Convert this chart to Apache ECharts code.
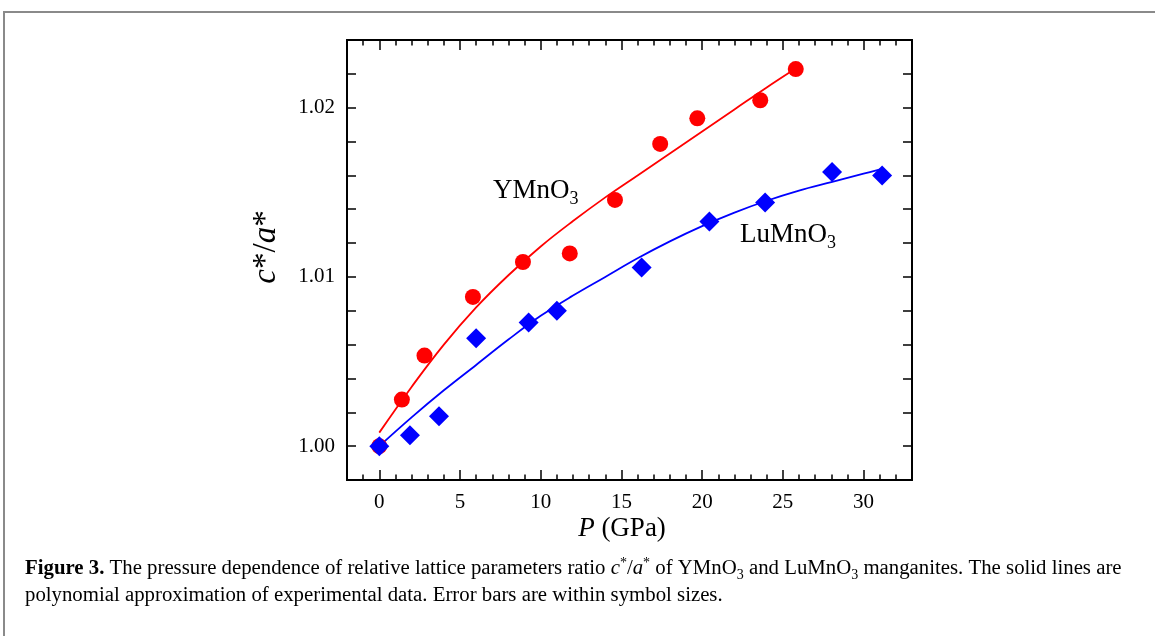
<!DOCTYPE html>
<html>
<head>
<meta charset="utf-8">
<script src="https://cdn.jsdelivr.net/npm/echarts@6/dist/echarts.min.js"></script>
<style>
  html, body { margin: 0; padding: 0; background: #fff; }
  #chart { width: 1155px; height: 636px; }
</style>
</head>
<body>
<div id="chart"></div>
<script>
// Measured c*/a* ratio versus pressure (GPa)
const pressureYMnO3 = [0, 1.4, 2.8, 5.8, 8.9, 11.8, 14.6, 17.4, 19.7, 23.6, 25.8];
const ratioYMnO3    = [1.0000, 1.00275, 1.00535, 1.00882, 1.01088, 1.01139, 1.01455, 1.01786, 1.01937, 1.02044, 1.02228];
const pressureLuMnO3 = [0, 1.9, 3.7, 6.0, 9.25, 11.0, 16.25, 20.45, 23.9, 28.05, 31.15];
const ratioLuMnO3    = [1.0000, 1.00065, 1.00176, 1.00637, 1.00731, 1.0080, 1.01055, 1.01327, 1.0144, 1.0162, 1.0160];

// Polynomial approximation curves (sampled)
const fitPressureYMnO3 = [0, 2, 4, 6, 8, 10, 12, 14, 16, 18, 20, 22, 24, 25.6];
const fitRatioYMnO3    = [1.0008, 1.0035, 1.0060, 1.0082, 1.0101, 1.0118, 1.0133, 1.0147, 1.0160, 1.0173, 1.0186, 1.0199, 1.0212, 1.0222];
const fitPressureLuMnO3 = [0, 2, 4, 6, 8, 10, 12, 14, 16, 18, 20, 22, 24, 26, 28, 30, 31.2];
const fitRatioLuMnO3    = [1.0000, 1.0017, 1.0033, 1.0048, 1.0063, 1.0077, 1.0089, 1.0100, 1.0111, 1.0121, 1.0130, 1.0138, 1.0145, 1.0151, 1.0156, 1.0161, 1.0164];

// Axis ticks
const xMajorTicks = [0, 5, 10, 15, 20, 25, 30];
const xMinorTicks = [-1, 1, 2, 3, 4, 6, 7, 8, 9, 11, 12, 13, 14, 16, 17, 18, 19, 21, 22, 23, 24, 26, 27, 28, 29, 31, 32];
const yTickLabels = [1.00, 1.01, 1.02];

const SERIF = '"Liberation Serif", "Times New Roman", serif';
const measureCtx = document.createElement('canvas').getContext('2d');

function zip(xs, ys) { return xs.map((x, i) => [x, ys[i]]); }

// Lay out a line of styled text runs (italic, bold, sub/superscript)
function textRuns(runs, size) {
  let x = 0;
  const els = [];
  runs.forEach(r => {
    const small = r.sub || r.sup;
    const s = small ? Math.round(size * 0.66) : size;
    const fontStyle = r.i ? 'italic' : 'normal';
    const fontWeight = r.b ? 'bold' : 'normal';
    measureCtx.font = fontStyle + ' ' + fontWeight + ' ' + s + 'px ' + SERIF;
    const w = measureCtx.measureText(r.t).width;
    els.push({
      type: 'text',
      x: x,
      y: r.sub ? size * 0.3 : (r.sup ? -size * 0.28 : 0),
      style: {
        text: r.t, fontSize: s, fontStyle: fontStyle, fontWeight: fontWeight,
        fontFamily: SERIF, fill: '#000', align: 'left', verticalAlign: 'middle'
      }
    });
    x += w;
  });
  return { els: els, width: x };
}

function textGroup(runs, size, x, y, opts) {
  opts = opts || {};
  const t = textRuns(runs, size);
  const g = { type: 'group', x: x, y: y, children: t.els };
  if (opts.center) {
    t.els.forEach(e => { e.x -= t.width / 2; });
  }
  if (opts.rotation) g.rotation = opts.rotation;
  return g;
}

const chart = echarts.init(document.getElementById('chart'), null, { renderer: 'canvas' });

const axisLineStyle = { color: '#000', width: 2 };
const tickLine = { color: '#000', width: 1.5 };

const baseX = { type: 'value', min: -2, max: 33, splitLine: { show: false }, axisLine: { onZero: false, lineStyle: axisLineStyle } };
const baseY = { type: 'value', min: 0.998, max: 1.024, interval: 0.002, splitLine: { show: false }, axisLine: { onZero: false, lineStyle: axisLineStyle } };

const option = {
  backgroundColor: '#fff',
  animation: false,
  grid: { left: 347, right: 243, top: 40, bottom: 156, containLabel: false },
  xAxis: [
    Object.assign({}, baseX, {
      position: 'bottom',
      axisTick: { inside: true, length: 10, lineStyle: tickLine, customValues: xMajorTicks },
      axisLabel: { customValues: xMajorTicks, margin: 12, fontSize: 21, fontFamily: SERIF, color: '#000' }
    }),
    Object.assign({}, baseX, {
      position: 'bottom',
      axisTick: { inside: true, length: 5.5, lineStyle: tickLine, customValues: xMinorTicks },
      axisLabel: { show: false }
    }),
    Object.assign({}, baseX, {
      position: 'top',
      axisTick: { inside: true, length: 10, lineStyle: tickLine, customValues: xMajorTicks },
      axisLabel: { show: false }
    }),
    Object.assign({}, baseX, {
      position: 'top',
      axisTick: { inside: true, length: 5.5, lineStyle: tickLine, customValues: xMinorTicks },
      axisLabel: { show: false }
    })
  ],
  yAxis: [
    Object.assign({}, baseY, {
      position: 'left',
      axisTick: { inside: true, length: 9, lineStyle: tickLine },
      axisLabel: { customValues: yTickLabels, margin: 12, fontSize: 21, fontFamily: SERIF, color: '#000',
                   formatter: v => v.toFixed(2) }
    }),
    Object.assign({}, baseY, {
      position: 'right',
      axisTick: { inside: true, length: 9, lineStyle: tickLine },
      axisLabel: { show: false }
    })
  ],
  series: [
    {
      name: 'YMnO3 fit', type: 'line', smooth: 0.4, showSymbol: false,
      lineStyle: { color: '#ff0000', width: 1.8 }, data: zip(fitPressureYMnO3, fitRatioYMnO3), z: 2
    },
    {
      name: 'LuMnO3 fit', type: 'line', smooth: 0.4, showSymbol: false,
      lineStyle: { color: '#0000ff', width: 1.8 }, data: zip(fitPressureLuMnO3, fitRatioLuMnO3), z: 2
    },
    {
      name: 'YMnO3', type: 'scatter', symbol: 'circle', symbolSize: 16,
      itemStyle: { color: '#ff0000', opacity: 1 }, data: zip(pressureYMnO3, ratioYMnO3), z: 3
    },
    {
      name: 'LuMnO3', type: 'scatter', symbol: 'diamond', symbolSize: [20, 20],
      itemStyle: { color: '#0000ff', opacity: 1 }, data: zip(pressureLuMnO3, ratioLuMnO3), z: 4
    }
  ],
  graphic: [
    // outer frame
    { type: 'rect', shape: { x: 4, y: 12, width: 1400, height: 900 },
      style: { fill: 'none', stroke: '#8a8a8a', lineWidth: 2 }, silent: true },
    // compound labels
    textGroup([{ t: 'YMnO' }, { t: '3', sub: true }], 27, 493, 191),
    textGroup([{ t: 'LuMnO' }, { t: '3', sub: true }], 27, 740, 235),
    // axis titles
    textGroup([{ t: 'P', i: true }, { t: ' (GPa)' }], 27, 622, 529, { center: true }),
    textGroup([{ t: 'c', i: true }, { t: '*/' }, { t: 'a', i: true }, { t: '*' }], 33, 266, 247,
              { center: true, rotation: Math.PI / 2 }),
    // caption
    textGroup([
      { t: 'Figure 3.', b: true },
      { t: ' The pressure dependence of relative lattice parameters ratio ' },
      { t: 'c', i: true }, { t: '*', sup: true }, { t: '/' }, { t: 'a', i: true }, { t: '*', sup: true },
      { t: ' of YMnO' }, { t: '3', sub: true }, { t: ' and LuMnO' }, { t: '3', sub: true },
      { t: ' manganites. The solid lines are' }
    ], 20.8, 25, 569),
    textGroup([
      { t: 'polynomial approximation of experimental data. Error bars are within symbol sizes.' }
    ], 20.8, 25, 596)
  ]
};

chart.setOption(option);
</script>
</body>
</html>
